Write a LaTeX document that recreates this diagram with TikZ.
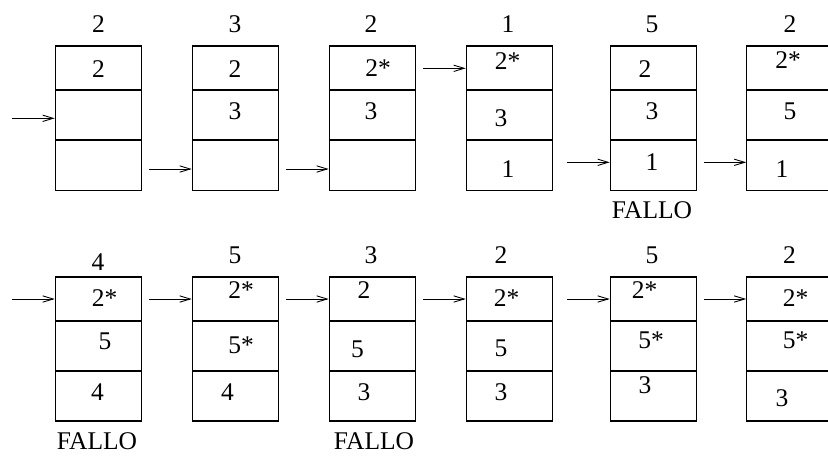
\documentclass[tikz,border=0pt]{standalone}
\usepackage{fontspec}
\setmainfont{Liberation Serif}
\usetikzlibrary{arrows.meta}

\begin{document}
\begin{tikzpicture}
[
	x=0.02cm,y=-0.02cm,
	font=\fontsize{14.5}{17}\selectfont,
	cell/.style={rectangle,draw,line width=0.6pt,minimum width=1.73cm,minimum height=1cm,inner sep=0},
	topcell/.style={cell,minimum height=0.88cm},
	txt/.style={inner sep=0},
	arr/.style={line width=0.5pt,-{Straight Barb[length=6pt,width=3.6pt]}}
]
\useasboundingbox (0,0) rectangle (828,458);

% first row
\node[topcell] (a1) at (98.5,68) {};
\node[cell] (b1) at (98.5,115) {};
\node[cell] (c1) at (98.5,165.5) {};
\node[topcell] (a2) at (235.5,68) {};
\node[cell] (b2) at (235.5,115) {};
\node[cell] (c2) at (235.5,165.5) {};
\node[topcell] (a3) at (372.5,68) {};
\node[cell] (b3) at (372.5,115) {};
\node[cell] (c3) at (372.5,165.5) {};
\node[topcell] (a4) at (509.5,68) {};
\node[cell] (b4) at (509.5,115) {};
\node[cell] (c4) at (509.5,165.5) {};
\node[topcell] (a5) at (653.5,68) {};
\node[cell] (b5) at (653.5,115) {};
\node[cell] (c5) at (653.5,165.5) {};
\node[topcell] (a6) at (790,68) {};
\node[cell] (b6) at (790,115) {};
\node[cell] (c6) at (790,165.5) {};

\node[txt] (n1) at (98.5,24.5) {2};
\node[txt] (n2) at (235,24.5) {3};
\node[txt] (n3) at (371,24.5) {2};
\node[txt] (n4) at (508,24.5) {1};
\node[txt] (n5) at (652,24.5) {5};
\node[txt] (n6) at (790,24.5) {2};

\node[txt] (ta1) at (98.5,69) {2};
\node[txt] (ta2) at (235,69) {2};
\node[txt] (tb2) at (235,111) {3};
\node[txt] (ta3) at (378,68.5) {2*};
\node[txt] (tb3) at (371,111) {3};
\node[txt] (ta4) at (507.5,61) {2*};
\node[txt] (tb4) at (501,118.5) {3};
\node[txt] (tc4) at (508,169) {1};
\node[txt] (ta5) at (645,69) {2};
\node[txt] (tb5) at (652,111) {3};
\node[txt] (tc5) at (652,162.5) {1};
\node[txt] (ta6) at (788,60.5) {2*};
\node[txt] (tb6) at (790,111) {5};
\node[txt] (tc6) at (782,169) {1};

\node[txt] (fallo1) at (652,210) {FALLO};

% second row
\node[topcell] (d1) at (98.5,299) {};
\node[cell] (e1) at (98.5,346) {};
\node[cell] (f1) at (98.5,396) {};
\node[topcell] (d2) at (235.5,299) {};
\node[cell] (e2) at (235.5,346) {};
\node[cell] (f2) at (235.5,396) {};
\node[topcell] (d3) at (372.5,299) {};
\node[cell] (e3) at (372.5,346) {};
\node[cell] (f3) at (372.5,396) {};
\node[topcell] (d4) at (509.5,299) {};
\node[cell] (e4) at (509.5,346) {};
\node[cell] (f4) at (509.5,396) {};
\node[topcell] (d5) at (653.5,299) {};
\node[cell] (e5) at (653.5,346) {};
\node[cell] (f5) at (653.5,396) {};
\node[topcell] (d6) at (790,299) {};
\node[cell] (e6) at (790,346) {};
\node[cell] (f6) at (790,396) {};

\node[txt] (m1) at (98,262.5) {4};
\node[txt] (m2) at (235,255.5) {5};
\node[txt] (m3) at (371,255.5) {3};
\node[txt] (m4) at (501,255.5) {2};
\node[txt] (m5) at (652,255.5) {5};
\node[txt] (m6) at (789.5,255.5) {2};

\node[txt] (td1) at (104.5,298) {2*};
\node[txt] (te1) at (105,341) {5};
\node[txt] (tf1) at (97.5,392) {4};
\node[txt] (td2) at (241,290) {2*};
\node[txt] (te2) at (241,345) {5*};
\node[txt] (tf2) at (227.5,392) {4};
\node[txt] (td3) at (364,290.5) {2};
\node[txt] (te3) at (357.5,349.5) {5};
\node[txt] (tf3) at (364,392) {3};
\node[txt] (td4) at (506.5,298) {2*};
\node[txt] (te4) at (501,348.5) {5};
\node[txt] (tf4) at (501,392) {3};
\node[txt] (td5) at (644.5,290) {2*};
\node[txt] (te5) at (651,340) {5*};
\node[txt] (tf5) at (645,385) {3};
\node[txt] (td6) at (795.5,298) {2*};
\node[txt] (te6) at (795.5,340) {5*};
\node[txt] (tf6) at (782,398.5) {3};

\node[txt] (fallo2) at (97,441.5) {FALLO};
\node[txt] (fallo3) at (374,441.5) {FALLO};

% arrows
\coordinate (s1) at (12.3,118.3);
\coordinate (s2) at (149.3,169);
\coordinate (s3) at (286,169);
\coordinate (s4) at (422.7,68.3);
\coordinate (s5) at (566.7,162.3);
\coordinate (s6) at (704,162.3);

\draw[arr] (s1) -- (s1 -| b1.west);
\draw[arr] (s2) -- (s2 -| c2.west);
\draw[arr] (s3) -- (s3 -| c3.west);
\draw[arr] (s4) -- (s4 -| a4.west);
\draw[arr] (s5) -- (s5 -| c5.west);
\draw[arr] (s6) -- (s6 -| c6.west);

\coordinate (r1) at (12.3,299);
\coordinate (r2) at (149.3,299);
\coordinate (r3) at (286,299);
\coordinate (r4) at (422.7,299);
\coordinate (r5) at (566.7,299);
\coordinate (r6) at (704,299);

\draw[arr] (r1) -- (r1 -| d1.west);
\draw[arr] (r2) -- (r2 -| d2.west);
\draw[arr] (r3) -- (r3 -| d3.west);
\draw[arr] (r4) -- (r4 -| d4.west);
\draw[arr] (r5) -- (r5 -| d5.west);
\draw[arr] (r6) -- (r6 -| d6.west);

\end{tikzpicture}
\end{document}
